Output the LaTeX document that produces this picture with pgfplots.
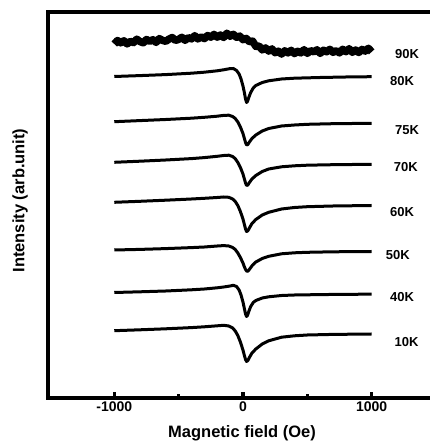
\documentclass[border=0pt]{standalone}
\usepackage{fontspec}
\setmainfont{Liberation Sans}
\usepackage{pgfplots}
\pgfplotsset{compat=1.18}
\begin{document}
\begin{tikzpicture}
\path[use as bounding box] (0,0) rectangle (430pt,442pt);
\begin{axis}[
  at={(48pt,44pt)}, anchor=south west,
  scale only axis, width=388pt, height=386pt,
  xmin=-1515, xmax=1500, ymin=-398, ymax=-12,
  y filter/.expression={-y},
  axis line style={line width=4.5pt},
  xtick={-1000,0,1000}, xticklabels={-1000,0,1000},
  minor xtick={-500,500},
  ytick=\empty,
  xtick pos=bottom, xtick align=inside,
  major tick length=6pt, minor tick length=4pt,
  tick style={black, line width=3.5pt},
  xticklabel style={font=\fontsize{14}{14}\selectfont\bfseries},
  every axis plot/.append style={black, line width=3pt, line join=round},
  clip=false,
]
% 90K noisy
\addplot+[black, solid, mark=none, line width=7.5pt] coordinates {
(-1000,44.0)(-975,40.5)(-950,42.8)(-925,40.8)(-900,43.9)(-875,41.3)(-850,42.6)(-825,39.2)
(-800,41.6)(-775,42.8)(-750,39.5)(-725,41.4)(-700,39.7)(-675,42.4)(-650,38.6)(-625,40.4)
(-600,41.3)(-575,39.1)(-550,37.5)(-525,40.4)(-500,39.4)(-475,37.3)(-450,40.3)(-425,37.7)
(-400,38.9)(-375,35.7)(-350,38.9)(-325,37.0)(-300,38.6)(-275,35.5)(-250,37.2)(-225,34.4)
(-200,37.2)(-175,35.0)(-150,37.5)(-125,33.2)(-100,36.3)(-75,34.3)(-50,37.3)(-25,36.1)
(0,39.7)(25,38.4)(50,41.8)(75,41.1)(100,46.4)(125,46.0)(150,49.9)(175,47.95)
(200,51.1)(225,48.9)(250,52.75)(275,51.2)(300,54.1)(325,50.8)(350,52.9)(375,50.3)
(400,53.6)(425,51.3)(450,52.9)(475,49.7)(500,53.4)(525,50.7)(550,51.8)(575,49.8)
(600,53.4)(625,50.2)(650,51.8)(675,49.3)(700,52.3)(725,50.7)(750,52.9)(775,49.3)
(800,51.75)(825,48.7)(850,52.3)(875,50.0)(900,52.5)(925,49.4)(950,51.1)(975,48.3)(1000,51.9)
};
% 80K
\addplot+[black, solid, mark=none] coordinates {
(-1000,76.5)(-800,75.6)(-600,74.6)(-400,73.2)(-300,72.2)(-200,70.8)(-150,69.8)(-100,68.6)
(-75,68.5)(-50,70.5)(-30,74)(-15,79)(0,86)(10,92)(20,99)(28,102.5)(35,101.5)(45,97.5)
(60,92.5)(80,88)(100,85.5)(150,82.5)(200,80.8)(300,79)(400,78.2)(600,77.5)(800,77)(1000,76.7)
};
% 75K
\addplot+[black, solid, mark=none] coordinates {
(-1000,121.7)(-800,120.6)(-600,119.5)(-400,118.2)(-300,117.3)(-200,116.2)(-150,115.4)(-110,115.2)
(-80,116.5)(-60,118.5)(-40,122)(-20,127)(0,133.5)(10,138)(20,142.5)(28,145)(38,144.5)(50,142)
(70,138.5)(100,135)(150,131)(200,128.5)(300,126)(400,125)(500,124.3)(700,123.7)(1000,123.3)
};
% 70K
\addplot+[black, solid, mark=none] coordinates {
(-1000,162.3)(-800,161.2)(-600,160)(-400,158.6)(-300,157.6)(-200,156.3)(-150,155.5)(-110,155.2)
(-80,156.5)(-60,158.7)(-40,162.5)(-20,167.5)(0,174)(10,178.5)(20,183)(28,185.5)(38,185)(50,182.5)
(70,179)(100,175.5)(150,171.5)(200,169)(300,166.8)(400,165.8)(500,165.2)(700,164.7)(1000,164.3)
};
% 60K
\addplot+[black, solid, mark=none] coordinates {
(-1000,202.3)(-800,201.3)(-600,200.2)(-400,199)(-300,198.3)(-200,197.5)(-150,197)(-110,197.3)
(-80,199)(-60,201.5)(-40,205.5)(-20,211.5)(0,219)(10,224)(20,229)(28,231.5)(38,230.8)(50,228)
(70,223.5)(100,219.5)(150,215)(200,212.3)(300,209)(400,207.5)(500,206.7)(700,206)(1000,205.5)
};
% 50K
\addplot+[black, solid, mark=none] coordinates {
(-1000,250)(-800,249.4)(-600,248.6)(-400,247.6)(-300,247)(-200,246)(-150,245.6)(-110,246)
(-80,247.5)(-60,249.5)(-40,253)(-20,257.5)(0,263)(10,266.5)(20,269.5)(30,271.3)(40,271)(55,268.5)
(75,265)(100,262)(150,258.5)(200,256.3)(300,253.8)(400,252.8)(500,252.3)(700,251.8)(1000,251.5)
};
% 40K
\addplot+[black, solid, mark=none] coordinates {
(-1000,292.5)(-800,291.8)(-600,291)(-400,289.8)(-300,289)(-200,287.8)(-150,287)(-100,286)
(-75,285.3)(-50,286.5)(-30,290)(-15,295)(0,302)(10,308)(20,314)(28,316.5)(35,315.5)(45,311.5)
(60,306.5)(80,302.5)(100,300.5)(150,298)(200,296.8)(300,295.5)(400,295)(600,294.6)(800,294.3)(1000,294.2)
};
% 10K
\addplot+[black, solid, mark=none] coordinates {
(-1000,330.7)(-800,329.8)(-600,328.8)(-400,327.6)(-300,326.8)(-200,325.8)(-150,325.3)(-110,326)
(-80,328)(-60,331)(-40,335.5)(-20,342)(0,350)(10,355)(20,359.5)(28,361.5)(38,360.5)(50,357.5)
(70,353)(100,349)(150,344)(200,340.8)(300,337.2)(400,335.8)(500,335)(700,334.4)(1000,334)
};
\begin{scope}[every node/.style={font=\fontsize{13}{13}\selectfont\bfseries, anchor=center}]
\node at (axis cs:1275,-53.7) {90K};
\node at (axis cs:1236,-81.3) {80K};
\node at (axis cs:1275,-130) {75K};
\node at (axis cs:1265,-166.7) {70K};
\node at (axis cs:1236,-211.7) {60K};
\node at (axis cs:1204,-255.3) {50K};
\node at (axis cs:1236,-297) {40K};
\node at (axis cs:1271,-341.7) {10K};
\end{scope}
\end{axis}
\node[font=\fontsize{16.5}{16.5}\selectfont\bfseries, anchor=center] at (242pt,9pt) {Magnetic field (Oe)};
\node[font=\fontsize{16.5}{16.5}\selectfont\bfseries, anchor=center, rotate=90] at (20pt,241.5pt) {Intensity (arb.unit)};
\end{tikzpicture}
\end{document}
